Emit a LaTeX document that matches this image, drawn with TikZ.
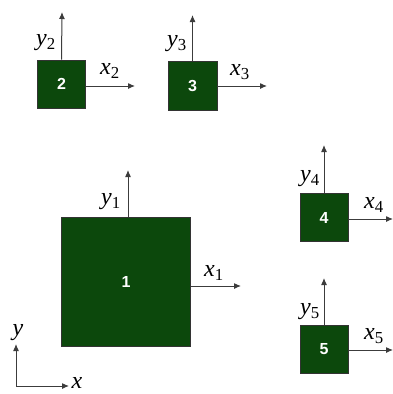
\documentclass[tikz,border=0pt]{standalone}
\usepackage{fontspec}
\setmainfont{Liberation Serif}
\newfontfamily\numfont{Liberation Sans}
\usetikzlibrary{arrows.meta}
\definecolor{boxgreen}{RGB}{12,72,12}
\definecolor{axisgray}{RGB}{60,60,60}
\tikzset{
  blk/.style={draw=black!80, line width=0.6pt, fill=boxgreen, minimum size=#1, inner sep=0pt,
    text=white, font=\numfont\bfseries\fontsize{16}{18}\selectfont},
  axis/.style={draw=axisgray, line width=1pt, -{Latex[length=7pt,width=6pt]}},
  lab/.style={font=\fontsize{24}{26}\selectfont, inner sep=0pt}
}
\newcommand{\lbl}[2]{\textit{#1}\textsubscript{#2}}
\begin{document}
\begin{tikzpicture}[x=1pt,y=-1pt]
\useasboundingbox (0,0) rectangle (392,394);
% boxes
\node[blk=48pt] (b2) at (61.5,84) {2};
\node[blk=49pt] (b3) at (192.5,86) {3};
\node[blk=129pt] (b1) at (126,281.5) {1};
\node[blk=48pt] (b4) at (324,217.5) {4};
\node[blk=48pt] (b5) at (324,349) {5};
% free ends
\coordinate (y2e) at (62,12);
\coordinate (x2e) at (135,86);
\coordinate (y3e) at (192.5,15);
\coordinate (x3e) at (267,86);
\coordinate (y1e) at (128,170);
\coordinate (x1e) at (241,286);
\coordinate (y4e) at (324,145);
\coordinate (x4e) at (393,219);
\coordinate (y5e) at (324,278);
\coordinate (x5e) at (393,350);
\coordinate (o) at (16,386);
\coordinate (ye) at (16,344);
\coordinate (xe) at (69,386);
% axes
\draw[axis] (b2.north) -- (y2e);
\draw[axis] (b2.east |- x2e) -- (x2e);
\draw[axis] (b3.north) -- (y3e);
\draw[axis] (b3.east |- x3e) -- (x3e);
\draw[axis] (b1.north -| y1e) -- (y1e);
\draw[axis] (b1.east |- x1e) -- (x1e);
\draw[axis] (b4.north) -- (y4e);
\draw[axis] (b4.east |- x4e) -- (x4e);
\draw[axis] (b5.north) -- (y5e);
\draw[axis] (b5.east |- x5e) -- (x5e);
\draw[axis] (o) -- (ye);
\draw[axis] (o) -- (xe);
% labels
\node[lab] (ly2) at (46,43) {\lbl{y}{2}};
\node[lab] (lx2) at (110,71) {\lbl{x}{2}};
\node[lab] (ly3) at (177,44) {\lbl{y}{3}};
\node[lab] (lx3) at (240,72) {\lbl{x}{3}};
\node[lab] (ly1) at (111,202) {\lbl{y}{1}};
\node[lab] (lx1) at (214,273) {\lbl{x}{1}};
\node[lab] (ly4) at (310,179) {\lbl{y}{4}};
\node[lab] (lx4) at (374,205) {\lbl{x}{4}};
\node[lab] (ly5) at (310,312) {\lbl{y}{5}};
\node[lab] (lx5) at (374,336) {\lbl{x}{5}};
\node[lab] (ly) at (18,333) {\textit{y}};
\node[lab] (lx) at (77,383) {\textit{x}};
\end{tikzpicture}
\end{document}
